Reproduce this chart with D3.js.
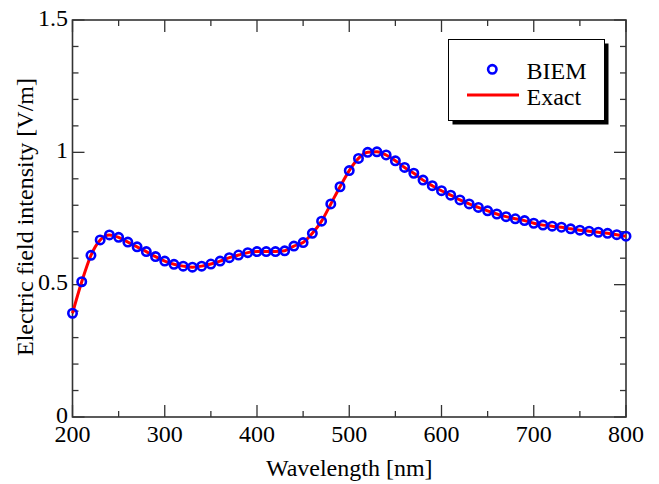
<!DOCTYPE html>
<html>
<head>
<meta charset="utf-8">
<script src="https://cdn.jsdelivr.net/npm/d3@7"></script>
<style>
  body { margin: 0; background: #fff; }
  text { font-family: "Liberation Serif", "Times New Roman", serif; }
</style>
</head>
<body>
<svg id="chart" width="659" height="484"></svg>
<script>
// wavelength in nm, every 10 nm
var wavelengths = d3.range(200, 801, 10);
// field intensity (V/m)
var biem = [0.392, 0.511, 0.611, 0.669, 0.688, 0.679, 0.661, 0.643, 0.625, 0.606,
            0.589, 0.577, 0.570, 0.566, 0.570, 0.578, 0.589, 0.602, 0.612, 0.621,
            0.625, 0.625, 0.625, 0.628, 0.646, 0.659, 0.694, 0.740, 0.805, 0.870,
            0.931, 0.977, 1.000, 1.002, 0.990, 0.968, 0.943, 0.921, 0.895, 0.874,
            0.855, 0.838, 0.820, 0.805, 0.792, 0.779, 0.767, 0.757, 0.749, 0.742,
            0.732, 0.725, 0.721, 0.717, 0.711, 0.706, 0.702, 0.698, 0.694, 0.689, 0.683];
var exact = biem.slice();
var xTicks = [200, 300, 400, 500, 600, 700, 800];
var yTicks = [0, 0.5, 1, 1.5];
var yTickLabels = ["0", "0.5", "1", "1.5"];

var svg = d3.select("#chart");
// plot box edges (window.top is taken, so use other names)
var pL = 72.5, pR = 626, pT = 20, pB = 417;
var fs = 24;

var x = d3.scaleLinear().domain([200, 800]).range([pL, pR]);
var y = d3.scaleLinear().domain([0, 1.5]).range([pB, pT]);

var axisColor = "#333";

// frame
svg.append("rect")
  .attr("x", pL).attr("y", pT)
  .attr("width", pR - pL).attr("height", pB - pT)
  .attr("fill", "none").attr("stroke", axisColor).attr("stroke-width", 1.6);

// ticks, pointing inward on all four sides
var g = svg.append("g").attr("stroke", axisColor).attr("stroke-width", 1.3);
d3.range(200, 801, 50).forEach(function(v) {
  var len = (v % 100 === 0) ? 12 : 6;
  g.append("line").attr("x1", x(v)).attr("x2", x(v)).attr("y1", pB).attr("y2", pB - len);
  g.append("line").attr("x1", x(v)).attr("x2", x(v)).attr("y1", pT).attr("y2", pT + len);
});
d3.range(0, 16, 1).forEach(function(i) {
  var v = i / 10;
  var len = (i % 5 === 0) ? 12 : 6;
  g.append("line").attr("y1", y(v)).attr("y2", y(v)).attr("x1", pL).attr("x2", pL + len);
  g.append("line").attr("y1", y(v)).attr("y2", y(v)).attr("x1", pR).attr("x2", pR - len);
});

// tick labels
svg.selectAll(".xl").data(xTicks).enter().append("text")
  .attr("x", function(d) { return x(d); })
  .attr("y", pB + 24.5)
  .attr("text-anchor", "middle")
  .attr("font-size", fs)
  .text(function(d) { return d; });

svg.selectAll(".yl").data(yTicks).enter().append("text")
  .attr("x", pL - 4.5)
  .attr("y", function(d) { return y(d) + 5.5; })
  .attr("text-anchor", "end")
  .attr("font-size", fs)
  .text(function(d, i) { return yTickLabels[i]; });

// axis titles
svg.append("text")
  .attr("x", (pL + pR) / 2).attr("y", 476)
  .attr("text-anchor", "middle").attr("font-size", fs)
  .text("Wavelength [nm]");

svg.append("text")
  .attr("transform", "translate(33,217) rotate(-90)")
  .attr("text-anchor", "middle").attr("font-size", fs)
  .text("Electric field intensity [V/m]");

// exact curve
var line = d3.line()
  .x(function(d, i) { return x(wavelengths[i]); })
  .y(function(d) { return y(d); })
  .curve(d3.curveMonotoneX);

svg.append("path")
  .datum(exact)
  .attr("d", line)
  .attr("fill", "none")
  .attr("stroke", "#ff0000")
  .attr("stroke-width", 3);

// BIEM markers
svg.selectAll(".pt").data(biem).enter().append("circle")
  .attr("cx", function(d, i) { return x(wavelengths[i]); })
  .attr("cy", function(d) { return y(d); })
  .attr("r", 4.2)
  .attr("fill", "none")
  .attr("stroke", "#0000ff")
  .attr("stroke-width", 2.6);

// legend
var lg = svg.append("g");
lg.append("rect").attr("x", 452.5).attr("y", 43.5).attr("width", 156).attr("height", 81).attr("fill", "#000");
lg.append("rect").attr("x", 448.5).attr("y", 39.5).attr("width", 156).attr("height", 81)
  .attr("fill", "#fff").attr("stroke", "#000").attr("stroke-width", 1);
lg.append("circle").attr("cx", 492.3).attr("cy", 69.3).attr("r", 4.2)
  .attr("fill", "none").attr("stroke", "#0000ff").attr("stroke-width", 2.6);
lg.append("line").attr("x1", 467).attr("x2", 519).attr("y1", 95).attr("y2", 95)
  .attr("stroke", "#ff0000").attr("stroke-width", 3);
lg.append("text").attr("x", 526.5).attr("y", 79).attr("font-size", fs).text("BIEM");
lg.append("text").attr("x", 526.5).attr("y", 105).attr("font-size", fs).text("Exact");
</script>
</body>
</html>
